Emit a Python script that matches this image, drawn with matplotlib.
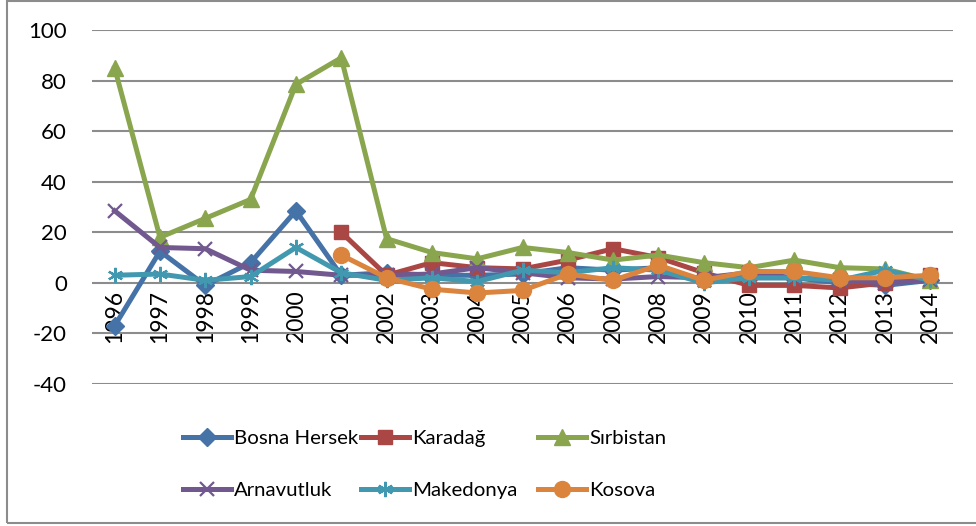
import matplotlib
matplotlib.use("Agg")
import matplotlib.pyplot as plt
from matplotlib.patches import Rectangle

plt.rcParams['font.family'] = ['Lato', 'DejaVu Sans']
plt.rcParams['axes.unicode_minus'] = False

years = [str(y) for y in range(1996, 2015)]
bosna = [-17, 12.5, -1, 8, 28.5, 3, 4, 3, 3, 3.5, 6, 5, 6, 1, 2, 2, 0, -1, 1]
karadag = [None, None, None, None, None, 20, 3, 8, 6, 5.5, 9, 13.5, 10, 4, -1, -1, -2, 0, 3]
sirbistan = [85, 18, 25.5, 33, 78.5, 89, 17.5, 12, 9.5, 14, 12, 9, 11, 8, 6, 9, 6, 5.5, 1]
arnavutluk = [28.5, 14, 13.5, 5, 4.5, 3, 3, 3.5, 6, 4, 2, 1.5, 2.5, 2, 4, 2, 1, 0, 1]
makedonya = [3, 3.5, 1, 2.5, 14, 4, 1, 2, 0.5, 5, 4, 6, 5, 0, 2, 2, 1, 5, 1]
kosova = [None, None, None, None, None, 11, 2, -2.5, -4, -3, 3.5, 1, 7, 1, 4.5, 4.5, 2, 2, 3]

names = ["Bosna Hersek", "Karadağ", "Sırbistan", "Arnavutluk", "Makedonya", "Kosova"]
series = [bosna, karadag, sirbistan, arnavutluk, makedonya, kosova]
colors = ["#4572A7", "#AA4643", "#89A54E", "#71588F", "#4198AF", "#DB843D"]
markers = ["D", "s", "^", "x", (6, 2, 0), "o"]
msizes = [9, 10, 11, 10, 11, 11.5]

W, H = 976, 526
fig = plt.figure(figsize=(W / 100, H / 100), dpi=100)
fig.patches.append(Rectangle((7 / W, 1 - 523 / H), (W + 5 - 7) / W, (523 - 1) / H,
                             transform=fig.transFigure, fill=False,
                             edgecolor="#8c8c8c", linewidth=1.5))

ax = fig.add_axes([92 / W, 1 - 384 / H, (953 - 92) / W, (384 - 30) / H])
x = list(range(len(years)))
handles = []
for name, vals, c, m, ms in zip(names, series, colors, markers, msizes):
    xs = [xi for xi, v in zip(x, vals) if v is not None]
    ys = [v for v in vals if v is not None]
    mew = 1.6 if m in ("x", (6, 2, 0)) else 1.0
    h, = ax.plot(xs, ys, color=c, linewidth=3.6, marker=m, markersize=ms,
                 markeredgecolor=c, markerfacecolor=c, markeredgewidth=mew,
                 label=name, solid_joinstyle="round", clip_on=False)
    handles.append(h)

ax.set_xlim(-0.5, len(years) - 0.5)
ax.set_ylim(-40, 100)
ax.set_yticks(range(-40, 101, 20))
ax.yaxis.grid(True, color="#8c8c8c", linewidth=1.5)
ax.set_axisbelow(True)
for s in ["left", "right", "top"]:
    ax.spines[s].set_visible(False)
ax.spines["bottom"].set_position(("data", 0))
ax.spines["bottom"].set_visible(False)
ax.set_xticks(x)
ax.set_xticklabels(years, rotation=90, va="top", ha="center")
ax.tick_params(axis="x", length=0, pad=5, labelsize=16.5)
ax.tick_params(axis="y", length=0, pad=18, labelsize=16)
for t in ax.get_xticklabels():
    t.set_zorder(5)

cols = [(183, [handles[0], handles[3]]), (361, [handles[1], handles[4]]),
        (538, [handles[2], handles[5]])]
for xp, hs in cols:
    fig.legend(handles=hs, labels=[h.get_label() for h in hs], loc="upper left",
               bbox_to_anchor=(xp / W, 1 - 430 / H), frameon=False,
               fontsize=14.7, handlelength=2.35, handletextpad=0.15,
               borderpad=0, borderaxespad=0, labelspacing=1.68, numpoints=1)

fig.savefig("out.png", dpi=100)
